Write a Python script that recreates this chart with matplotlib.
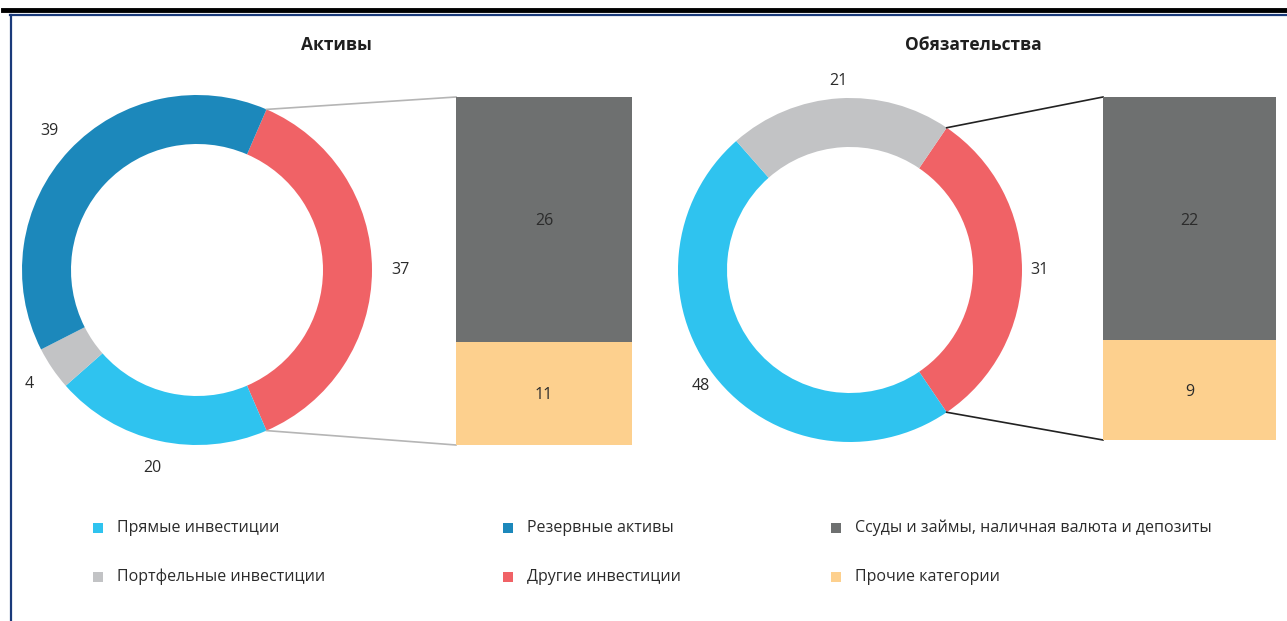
import numpy as np
import matplotlib.pyplot as plt
from matplotlib.patches import Rectangle
from matplotlib.lines import Line2D

plt.rcParams['font.family'] = ['Open Sans', 'DejaVu Sans']

# данные
titles = ['Активы', 'Обязательства']
assets_labels = ['Другие инвестиции', 'Прямые инвестиции', 'Портфельные инвестиции', 'Резервные активы']
assets_values = [37, 20, 4, 39]
liab_labels = ['Другие инвестиции', 'Прямые инвестиции', 'Портфельные инвестиции']
liab_values = [31, 48, 21]
bar_labels = ['Прочие категории', 'Ссуды и займы, наличная валюта и депозиты']
assets_bar = [11, 26]
liab_bar = [9, 22]

colors = {
    'Прямые инвестиции': '#2fc3ef',
    'Портфельные инвестиции': '#c2c3c5',
    'Резервные активы': '#1c88bb',
    'Другие инвестиции': '#f06266',
    'Ссуды и займы, наличная валюта и депозиты': '#6e7070',
    'Прочие категории': '#fdd08e',
}
text_col = '#2b2b2b'

W, H = 1287, 621
fig = plt.figure(figsize=(W / 100, H / 100), dpi=100)
ax = fig.add_axes([0, 0, 1, 1])


def donut(values, labels, center, radius, title, title_x, bar_vals, bar_box, line_col, ldist):
    frac = values[0] / sum(values)
    start = 180 * frac
    wedges, texts = ax.pie(values, colors=[colors[l] for l in labels], center=center,
                           radius=radius, startangle=start, counterclock=False,
                           labels=[str(v) for v in values], labeldistance=ldist,
                           wedgeprops=dict(width=49, linewidth=0),
                           textprops=dict(fontsize=11.5, color=text_col))
    for t in texts:
        t.set_horizontalalignment('center')
        t.set_verticalalignment('center')
    ax.text(title_x, H - 45, title, fontsize=12.5, fontweight='bold', color='#1f1f1f',
            ha='center', va='center')

    # столбец
    x0, y0, w, h = bar_box
    bax = fig.add_axes([x0 / W, (H - y0 - h) / H, w / W, h / H])
    bottom = 0
    for v, lab in zip(bar_vals, bar_labels):
        bax.bar(0, v, bottom=bottom, width=1, color=colors[lab], linewidth=0)
        bax.text(0, bottom + v / 2, str(v), ha='center', va='center_baseline',
                 fontsize=11.5, color=text_col)
        bottom += v
    bax.set_xlim(-0.5, 0.5)
    bax.set_ylim(0, sum(bar_vals))
    bax.axis('off')

    # соединительные линии
    cx, cy = center
    a = np.deg2rad(start)
    px, py = cx + radius * np.cos(a), cy + radius * np.sin(a)
    ax.plot([px, x0], [py, H - y0], color=line_col, lw=1.2)
    ax.plot([px, x0], [2 * cy - py, H - y0 - h], color=line_col, lw=1.2)


donut(assets_values, assets_labels, (197, H - 270), 175, titles[0], 336,
      assets_bar, (456, 97, 176, 348), '#b5b5b5', 1.16)
donut(liab_values, liab_labels, (850, H - 270), 172, titles[1], 973,
      liab_bar, (1103, 97, 173, 343), '#222222', 1.1)

ax.set_xlim(0, W)
ax.set_ylim(0, H)
ax.set_aspect('equal')
ax.axis('off')

# рамка
ax.add_line(Line2D([3, W], [H - 10, H - 10], color='black', lw=3.5))
ax.add_line(Line2D([10, W], [H - 15, H - 15], color='#1a3a7a', lw=1.6))
ax.add_line(Line2D([10.5, 10.5], [0, H - 15], color='#1a3a7a', lw=1.6))

# легенда
legend_items = [
    ('Прямые инвестиции', 98, 528), ('Портфельные инвестиции', 98, 577),
    ('Резервные активы', 508, 528), ('Другие инвестиции', 508, 577),
    ('Ссуды и займы, наличная валюта и депозиты', 836, 528), ('Прочие категории', 836, 577),
]
for lab, lx, ly in legend_items:
    ax.add_patch(Rectangle((lx - 5, H - ly - 5), 10, 10, color=colors[lab], lw=0))
    ax.text(lx + 19, H - ly, lab, fontsize=11.5, color=text_col, ha='left', va='center')

fig.savefig('out.png', dpi=100)
